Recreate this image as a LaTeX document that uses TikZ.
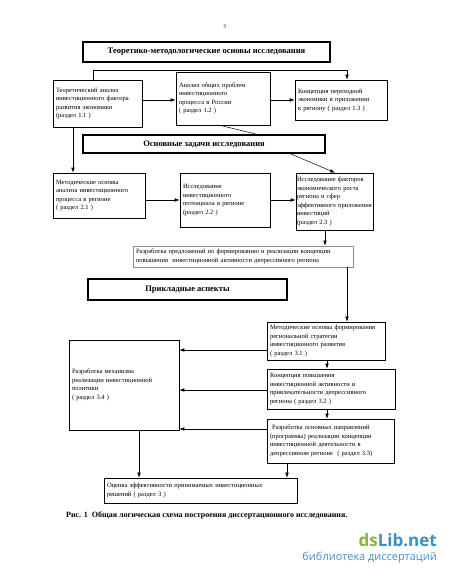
\documentclass[tikz,border=0pt]{standalone}
\usepackage{fontspec}
\setmainfont{Liberation Serif}
\newfontfamily\wmfont{Open Sans}
\usetikzlibrary{arrows.meta}
\definecolor{wmgreen}{HTML}{8CB23F}
\definecolor{wmblue}{HTML}{3A8FC4}
\definecolor{wmblue2}{HTML}{4A8EC8}
\begin{document}
\begin{tikzpicture}[x=1pt,y=-1pt,
 box/.style={draw, line width=0.6pt, inner xsep=3pt, inner ysep=1pt, align=left, font=\fontsize{6.5}{8.5}\selectfont},
 titlebox/.style={draw, line width=1.3pt, inner sep=0pt, font=\fontsize{8.5}{10}\bfseries\selectfont, align=center},
 arr/.style={-{Latex[length=5pt,width=3.5pt]}, line width=0.5pt},
 ln/.style={line width=0.5pt}]
\useasboundingbox (0,0) rectangle (450,578);
\fill[white] (0,0) rectangle (450,578);

% helper coordinates
\coordinate (y70) at (0,70);
\coordinate (y100) at (0,100);
\coordinate (y200) at (0,200);
\coordinate (y350) at (0,350);
\coordinate (y390) at (0,390);
\coordinate (y429) at (0,429);
\coordinate (x73) at (73,0);
\coordinate (x93) at (93,0);
\coordinate (x139) at (139,0);
\coordinate (x220) at (220,0);
\coordinate (x257) at (257,0);
\coordinate (x287) at (287,0);
\coordinate (x290) at (290,0);
\coordinate (x325) at (325,0);
\coordinate (x327) at (327,0);
\coordinate (x335) at (335,0);
\coordinate (x347) at (347,0);

\node[font=\fontsize{6}{7}\selectfont, text=black!70] (pg) at (225,27) {9};

\node[titlebox, minimum width=247pt, minimum height=20pt] (t1) at (206.5,52) {Теоретико-методологические основы исследования};

\node[box, text width=83pt, minimum height=47pt] (b11) at (97.5,103.5) {Теоретический анализ\\инвестиционного фактора\\развития экономики\\(раздел 1.1 )};
\node[box, text width=88pt, minimum height=53pt] (b12) at (223,98.5) {Анализ общих проблем\\инвестиционного\\процесса в России\\( раздел 1.2 )};
\node[box, text width=86pt, minimum height=40pt] (b13) at (341,100) {Концепция переходной\\экономики в приложении\\к региону ( раздел 1.3 )};

\node[titlebox, minimum width=242pt, minimum height=18pt] (t2) at (204,144) {Основные задачи исследования};

\node[box, text width=86pt, minimum height=45pt] (b21) at (99,195.5) {Методические основы\\анализа инвестиционного\\процесса в регионе\\( раздел 2.1 )};
\node[box, text width=84pt, minimum height=54pt] (b22) at (225,200) {Исследование\\инвестиционного\\потенциала в регионе\\(раздел 2.2 )};
\node[box, inner xsep=1pt, text width=75pt, minimum height=57pt] (b23) at (334.5,201.5) {Исследование факторов\\экономического роста\\региона и сфер\\\mbox{эффективного приложения}\\инвестиций\\(раздел 2.3 )};

\node[box, draw=black!45, text width=214pt, minimum height=21pt] (br) at (243,256.5) {Разработка предложений по формированию и реализации концепции\\повышения \ инвестиционной активности депрессивного региона};

\node[titlebox, minimum width=199pt, minimum height=21pt] (t3) at (187.5,289.5) {Прикладные аспекты};

\node[box, text width=112pt, minimum height=38pt] (b31) at (326,341) {Методические основы формирования\\региональной стратегии\\инвестиционного развития\\( раздел 3.1 )};
\node[box, text width=122pt, minimum height=40pt] (b32) at (331,389) {Концепция повышения\\инвестиционной активности и\\привлекательности депрессивного\\региона ( раздел 3.2 )};
\node[box, text width=121pt, minimum height=44pt] (b33) at (330.5,441) {\ Разработка основных направлений\\(программы) реализации концепции\\инвестиционной деятельности в\\депрессивном регионе \ ( раздел 3.3)};
\node[box, text width=104pt, minimum height=90pt] (b34) at (124,385) {Разработка механизма\\реализации инвестиционной\\политики\\( раздел 3.4 )};

\node[box, text width=187pt, minimum height=25pt] (be) at (200.5,490.5) {Оценка эффективности принимаемых инвестиционных\\решений ( раздел 3 )};

\node[anchor=west, inner sep=0pt, font=\fontsize{8}{9}\bfseries\selectfont] (cap) at (66,515) {Рис. 1 \ Общая логическая схема построения диссертационного исследования.};

\node[anchor=east, inner sep=0pt, font=\wmfont\fontsize{17}{18}\selectfont\bfseries] (wm1) at (437,540) {\textcolor{wmgreen}{ds}\textcolor{wmblue}{Lib.net}};
\node[anchor=east, inner sep=0pt, text=wmblue2, font=\wmfont\fontsize{11}{12}\selectfont] (wm2) at (437,558) {библиотека диссертаций};

% connectors
\draw[arr] (b11.north -| x93) |- (y70 -| x347) -- (b13.north -| x347);
\draw[arr] (b11.east |- y100) -- (b12.west |- y100);
\draw[arr] (b12.east |- y100) -- (b13.west |- y100);
\draw[ln] (b12.south -| x220) -- (t2.north -| x257);
\draw[arr] (b11.south -| x73) -- (b21.north -| x73);
\draw[arr] (t2.south -| x290) -- (b23.north -| x335);
\draw[arr] (b21.east |- y200) -- (b22.west |- y200);
\draw[arr] (b22.east |- y200) -- (b23.west |- y200);
\draw[arr] (b23.south -| x325) -- (br.north -| x325);
\draw[arr] (br.south -| x347) -- (b31.north -| x347);
\draw[arr] (b31.west |- y350) -- (b34.east |- y350);
\draw[arr] (b32.west |- y390) -- (b34.east |- y390);
\draw[arr] (b33.west |- y429) -- (b34.east |- y429);
\draw[arr] (b31.south -| x327) -- (b32.north -| x327);
\draw[arr] (b32.south -| x327) -- (b33.north -| x327);
\draw[arr] (b34.south -| x139) -- (be.north -| x139);
\draw[arr] (b33.south -| x287) -- (be.north -| x287);
\end{tikzpicture}
\end{document}
